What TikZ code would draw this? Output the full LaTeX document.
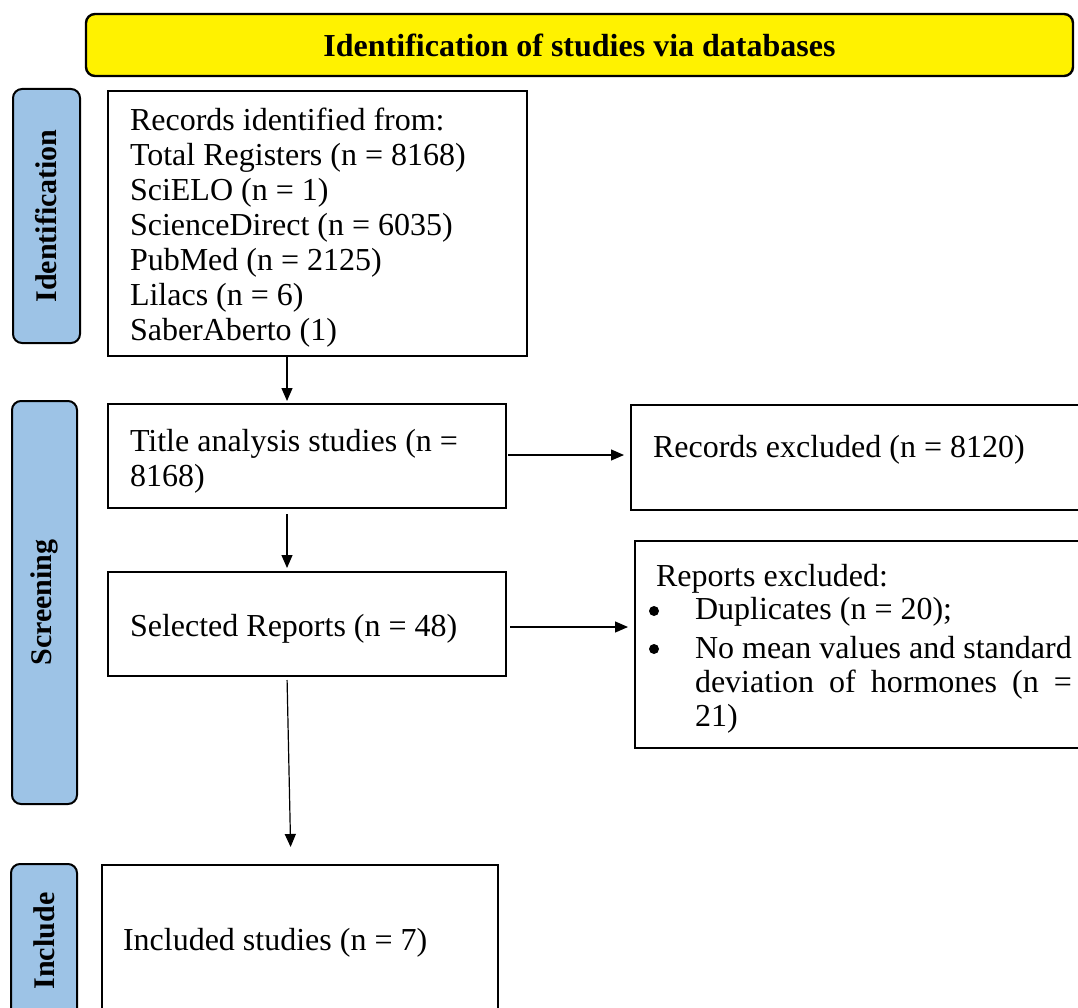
\documentclass[tikz,border=0pt]{standalone}
\usepackage{fontspec}
\setmainfont{Liberation Serif}
\usetikzlibrary{arrows.meta,calc}
\definecolor{sideblue}{RGB}{157,195,230}
\begin{document}
\begin{tikzpicture}[x=1pt,y=-1pt,
  every node/.style={inner sep=0pt, outer sep=0pt},
  box/.style={draw=black, line width=1.8pt, rectangle, anchor=north west},
  side/.style={draw=black, line width=2pt, fill=sideblue, rounded corners=9pt, rotate=90,
     font=\fontsize{30}{34}\selectfont\bfseries},
  txt/.style={anchor=west, align=left, font=\fontsize{32}{35}\selectfont},
  arr/.style={line width=1.2pt, -{Triangle[length=13pt,width=11pt]}}]
\useasboundingbox (0,0) rectangle (1078,1008);
\clip (0,0) rectangle (1078,1008);
\fill[white] (0,0) rectangle (1078,1008);

% banner
\node[draw=black, line width=2.4pt, fill=yellow, rounded corners=9pt, anchor=north west,
  minimum width=987pt, minimum height=62pt,
  font=\fontsize{32}{34}\selectfont\bfseries] (banner) at (86,14) {Identification of studies via databases};

% side labels
\node[side, minimum width=254pt, minimum height=67pt] (sid) at (46.5,216) {Identification};
\node[side, minimum width=403pt, minimum height=65pt] (sscr) at (44.5,602.5) {Screening};
\node[side, minimum width=154pt, minimum height=66pt] (sinc) at (44,941) {Include};

% boxes
\node[box, minimum width=419pt, minimum height=265pt] (b1) at (108,91) {};
\node[txt] (t1) at (130,228) {Records identified from:\\Total Registers (n = 8168)\\SciELO (n = 1)\\ScienceDirect (n = 6035)\\PubMed (n = 2125)\\Lilacs (n = 6)\\SaberAberto (1)};

\node[box, minimum width=398pt, minimum height=104pt] (b2) at (108,404) {};
\node[txt] (t2) at (130,461) {Title analysis studies (n =\\8168)};

\node[box, minimum width=470pt, minimum height=105pt] (rex) at (631,405) {};
\node[txt] (t3) at (653,450) {Records excluded (n = 8120)};

\node[box, minimum width=398pt, minimum height=104pt] (b3) at (108,572) {};
\node[txt] (t4) at (130,629) {Selected Reports (n = 48)};

\node[box, minimum width=470pt, minimum height=207pt] (rep) at (635,541) {};
\node[txt, anchor=north west, font=\fontsize{32}{34}\selectfont] (t5) at (652,564) {\hspace*{4pt}Reports excluded:\\[-1pt]
\hspace*{43pt}Duplicates (n = 20);\\[5pt]
\hspace*{43pt}No mean values and standard\\
\hspace*{43pt}\makebox[377pt][s]{deviation of hormones (n =}\\
\hspace*{43pt}21)};
% bullets
\fill (654,611) circle (5pt);
\fill (654,649) circle (5pt);

\node[box, minimum width=396pt, minimum height=160pt] (b4) at (102,865) {};
\node[txt] (t7) at (123,943) {Included studies (n = 7)};

% arrows
\coordinate (xa) at (287,0);
\draw[arr, shorten >=3pt] (b1.south -| xa) -- (b2.north -| xa);
\draw[arr, shorten <=6pt, shorten >=4pt] (b2.south -| xa) -- (b3.north -| xa);
\coordinate (ya) at (0,455);
\draw[arr, shorten <=2pt, shorten >=7pt] (b2.east |- ya) -- (rex.west |- ya);
\coordinate (yb) at (0,627);
\draw[arr, shorten <=4pt, shorten >=7pt] (b3.east |- yb) -- (rep.west |- yb);
\coordinate (xb) at (291,0);
\draw[arr, shorten <=4pt, shorten >=18pt] (b3.south -| xa) -- (b4.north -| xb);
\end{tikzpicture}
\end{document}
